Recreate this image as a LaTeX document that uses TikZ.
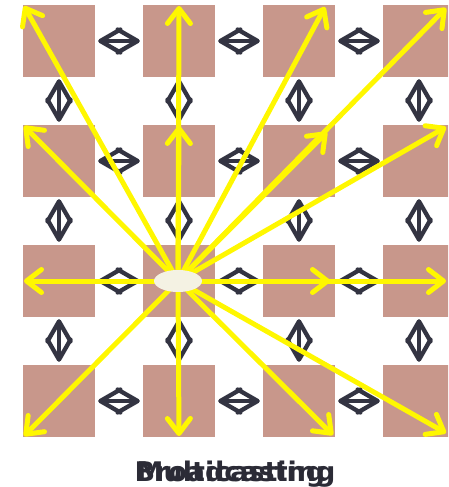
\documentclass[tikz,border=0pt]{standalone}
\usepackage{fontspec}
\setmainfont{DejaVu Sans}
\usetikzlibrary{arrows.meta,shapes.geometric}
\definecolor{sq}{RGB}{200,151,139}
\definecolor{dk}{RGB}{51,52,66}
\definecolor{yl}{RGB}{255,247,0}
\definecolor{el}{RGB}{244,242,227}
\definecolor{tx}{RGB}{43,43,54}
\tikzset{
  square/.style={fill=sq, minimum size=72pt, inner sep=0pt, draw=none},
  link/.style={draw=dk, line width=4.3pt, line cap=round, line join=round,
    {Straight Barb[length=20pt,width=23pt,line cap=round,line join=round]}-{Straight Barb[length=20pt,width=23pt,line cap=round,line join=round]}},
  ray/.style={draw=yl, line width=5pt, line cap=round,
    -{Straight Barb[length=15pt,width=23pt,line cap=round,line join=round]}},
  hub/.style={ellipse, fill=el, minimum width=48pt, minimum height=22pt, inner sep=0pt},
  title/.style={text=tx, font=\bfseries\fontsize{27pt}{27pt}\selectfont, anchor=base, inner sep=0pt}
}
\begin{document}
\begin{tikzpicture}[x=1pt,y=-1pt]
\useasboundingbox (0,0) rectangle (448,487);
\clip (0,0) rectangle (448,487);
% squares
\foreach \r in {0,1,2,3}{
  \foreach \c in {0,1,2,3}{
    \node[square] (s\r\c) at ({59+120*\c},{41+120*\r}) {};
  }
}
% dark bidirectional links
\foreach \r in {0,1,2,3}{
  \foreach \c/\n in {0/1,1/2,2/3}{
    \draw[link, shorten <=3pt, shorten >=3pt] (s\r\c.east) -- (s\r\n.west);
  }
}
\foreach \r/\n in {0/1,1/2,2/3}{
  \foreach \c in {0,1,2,3}{
    \draw[link, shorten <=2pt, shorten >=3pt] (s\r\c.south) -- (s\n\c.north);
  }
}
% hub
\coordinate (hc) at (178,281);
% targets
\coordinate (t1) at (24,6);
\coordinate (t2) at (179,6);
\coordinate (t3) at (325,7);
\coordinate (t4) at (446,8);
\coordinate (t5) at (24,126);
\coordinate (t6) at (179,126);
\coordinate (t7) at (327,132);
\coordinate (t8) at (446,127);
\coordinate (t9) at (24,281);
\coordinate (t10) at (330,281);
\coordinate (t11) at (446,281);
\coordinate (t12) at (24,436);
\coordinate (t13) at (179,436);
\coordinate (t14) at (333,435);
\coordinate (t15) at (446,433);
\foreach \t in {1,...,15}{
  \draw[ray] (hc) -- (t\t);
}
\node[hub] (h) at (hc) {};
% titles
\node[title] (m) at (231,481) {Multicasting};
\node[title] (b) at (235,481) {Broadcasting};
\end{tikzpicture}
\end{document}
